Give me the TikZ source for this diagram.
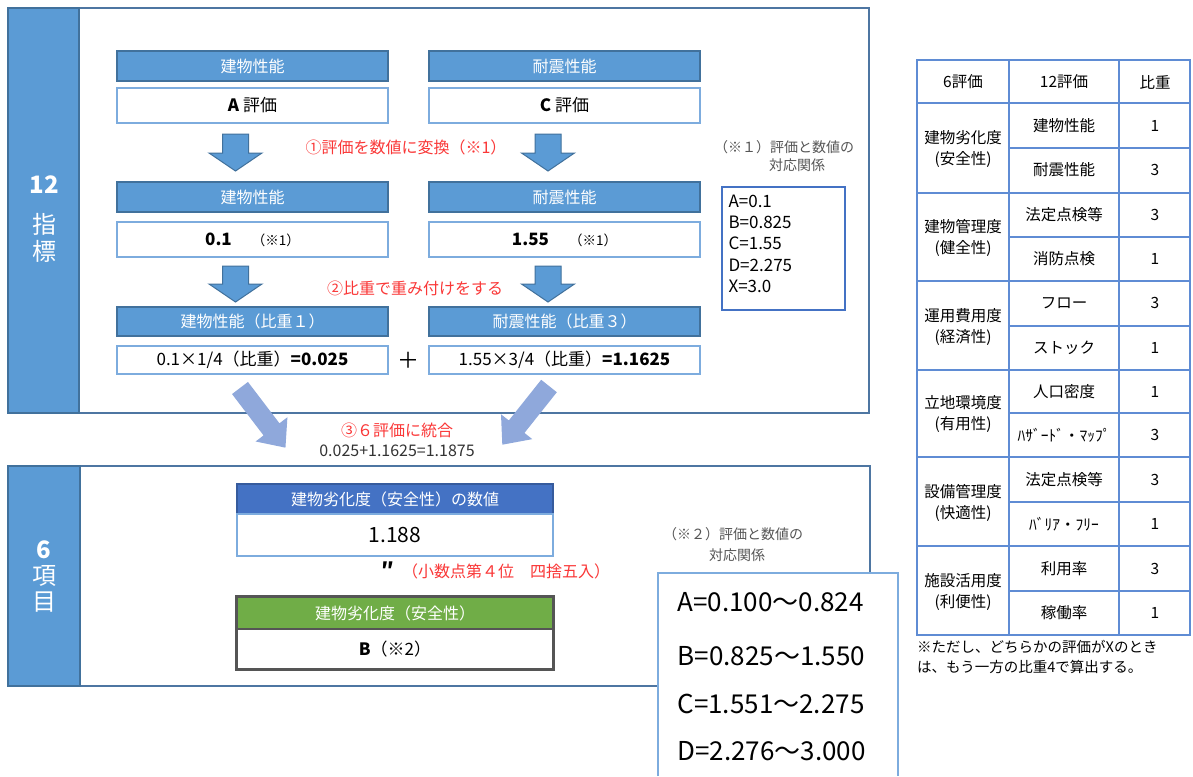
\documentclass[tikz,border=0pt]{standalone}
\usepackage{fontspec}
\setmainfont{Noto Sans CJK JP}
\usepackage{xcolor}
\usepackage{tikz}
\definecolor{bandblue}{RGB}{91,155,213}
\definecolor{bandedge}{RGB}{65,113,156}
\definecolor{panelline}{RGB}{78,118,162}
\definecolor{lightedge}{RGB}{125,172,222}
\definecolor{deepblue}{RGB}{68,114,196}
\definecolor{leafgreen}{RGB}{112,173,71}
\definecolor{darkframe}{RGB}{85,85,85}
\definecolor{notered}{RGB}{250,55,55}
\definecolor{mergearrow}{RGB}{143,168,219}
\definecolor{gridblue}{RGB}{95,140,212}
\definecolor{notegray}{RGB}{85,85,85}

\tikzset{
  hdrbox/.style={fill=bandblue, draw=bandedge, line width=1.2pt, text=white,
    minimum width=271pt, minimum height=30pt, inner sep=0pt,
    font=\fontsize{16}{19}\selectfont},
  valbox/.style={fill=white, draw=lightedge, line width=1.5pt,
    minimum width=271pt, minimum height=35pt, inner sep=0pt,
    font=\fontsize{17}{19}\selectfont},
  downarrow/.style={fill=bandblue, draw=bandedge, line width=1pt},
  mergeshape/.style={fill=mergearrow, draw=none},
  redtext/.style={text=notered, font=\fontsize{16}{19}\selectfont},
  cell/.style={font=\fontsize{15.5}{21}\selectfont, align=center, inner sep=0pt},
}

\begin{document}
\begin{tikzpicture}[x=1pt, y=-1pt]
    \useasboundingbox (0,0) rectangle (1193,776);

    % Upper panel - 12 indicators
    \draw[panelline, line width=1.5pt, fill=white] (8,8) rectangle (869,413);
    \draw[bandedge, line width=1.5pt, fill=bandblue] (8,8) rectangle (79,413);
    \node[text=white, font=\bfseries\fontsize{24}{26}\selectfont] (twelve) at (44,185) {12};
    \node[text=white, font=\fontsize{24}{26}\selectfont] (shi) at (44,224) {指};
    \node[text=white, font=\fontsize{24}{26}\selectfont] (hyo) at (44,251) {標};

    % Step 0 - ratings
    \node[hdrbox] (bldgA) at (252.5,66) {建物性能};
    \node[valbox] (rateA) at (252.5,105.5) {{\bfseries A} 評価};
    \node[hdrbox] (quakeA) at (564.5,66) {耐震性能};
    \node[valbox] (rateC) at (564.5,105.5) {{\bfseries C} 評価};

    % Arrows - step 1
    \draw[downarrow] (222.5,134) -- ++(26,0) -- ++(0,19) -- ++(13.5,0) -- ++(-26.5,18) -- ++(-26.5,-18) -- ++(13.5,0) -- cycle;
    \draw[downarrow] (535,134) -- ++(26,0) -- ++(0,19) -- ++(13.5,0) -- ++(-26.5,18) -- ++(-26.5,-18) -- ++(13.5,0) -- cycle;
    \node[redtext] (stepone) at (406,147) {①評価を数値に変換（※1）};

    % Step 1 - numeric values
    \node[hdrbox] (bldgB) at (252.5,197) {建物性能};
    \node[valbox] (numA) at (252.5,239.5) {{\bfseries 0.1}\hspace{20pt}{\fontsize{13.5}{15}\selectfont （※1）}};
    \node[hdrbox] (quakeB) at (564.5,197) {耐震性能};
    \node[valbox] (numC) at (564.5,239.5) {{\bfseries 1.55}\hspace{20pt}{\fontsize{13.5}{15}\selectfont （※1）}};

    % Arrows - step 2
    \draw[downarrow] (222.5,266) -- ++(26,0) -- ++(0,18) -- ++(13.5,0) -- ++(-26.5,18) -- ++(-26.5,-18) -- ++(13.5,0) -- cycle;
    \draw[downarrow] (535,266) -- ++(26,0) -- ++(0,18) -- ++(13.5,0) -- ++(-26.5,18) -- ++(-26.5,-18) -- ++(13.5,0) -- cycle;
    \node[redtext] (steptwo) at (415,288) {②比重で重み付けをする};

    % Step 2 - weighted values
    \node[hdrbox, minimum height=29pt] (bldgC) at (252.5,321.5) {建物性能（比重１）};
    \node[valbox, minimum height=28pt] (wA) at (252.5,360) {0.1×1/4（比重）{\bfseries =0.025}};
    \node[hdrbox, minimum height=29pt] (quakeC) at (564.5,321.5) {耐震性能（比重３）};
    \node[valbox, minimum height=28pt] (wC) at (564.5,360) {1.55×3/4（比重）{\bfseries =1.1625}};
    \node[font=\fontsize{22}{24}\selectfont] (plus) at (408,360) {＋};

    % Note 1 - rating table
    \node[text=notegray, font=\fontsize{14}{16}\selectfont] (noteone) at (784,147) {（※１）評価と数値の};
    \node[text=notegray, font=\fontsize{14}{16}\selectfont] (noteoneb) at (797,165) {対応関係};
    \draw[deepblue, line width=1.3pt] (722,187) rectangle (845,310);
    \node[anchor=west, font=\fontsize{17}{19}\selectfont] (va) at (725,201) {A=0.1};
    \node[anchor=west, font=\fontsize{17}{19}\selectfont] (vb) at (725,222.5) {B=0.825};
    \node[anchor=west, font=\fontsize{17}{19}\selectfont] (vc) at (725,243.5) {C=1.55};
    \node[anchor=west, font=\fontsize{17}{19}\selectfont] (vd) at (725,265) {D=2.275};
    \node[anchor=west, font=\fontsize{17}{19}\selectfont] (vx) at (725,286) {X=3.0};

    % Merge arrows - step 3
    \begin{scope}[shift={(240,388)}, rotate=-52.7]
      \fill[mergeshape] (0,-10) -- (52,-10) -- (52,-20) -- (75,0) -- (52,20) -- (52,10) -- (0,10) -- cycle;
    \end{scope}
    \begin{scope}[shift={(549,386)}, rotate=-128.5]
      \fill[mergeshape] (0,-10) -- (52,-10) -- (52,-20) -- (75,0) -- (52,20) -- (52,10) -- (0,10) -- cycle;
    \end{scope}
    \node[redtext] (stepthree) at (397,430) {③６評価に統合};
    \node[text=black!80, font=\fontsize{16}{18}\selectfont] (sum) at (397,451) {0.025+1.1625=1.1875};

    % Lower panel - 6 items
    \draw[panelline, line width=1.5pt, fill=white] (8,466) rectangle (870,686);
    \draw[bandedge, line width=1.5pt, fill=bandblue] (8,466) rectangle (80,686);
    \node[text=white, font=\bfseries\fontsize{24}{26}\selectfont] (six) at (44,550) {6};
    \node[text=white, font=\fontsize{24}{26}\selectfont] (kou) at (44,576) {項};
    \node[text=white, font=\fontsize{24}{26}\selectfont] (moku) at (44,602) {目};

    % Result boxes
    \node[hdrbox, fill=deepblue, draw=deepblue!80!black, minimum width=316pt] (resulthdr) at (395,499) {建物劣化度（安全性）の数値};
    \node[valbox, minimum width=316pt, minimum height=42pt, font=\fontsize{21}{23}\selectfont] (resultval) at (395,535) {1.188};
    \node[font=\bfseries\fontsize{20}{22}\selectfont] (ditto) at (388,570) {″};
    \node[redtext] (rounding) at (506,571) {（小数点第４位　四捨五入）};
    \node[fill=leafgreen, text=white, minimum width=316pt, minimum height=32pt, inner sep=0pt, font=\fontsize{16}{19}\selectfont] (gradehdr) at (395,613) {建物劣化度（安全性）};
    \node[fill=white, minimum width=316pt, minimum height=40pt, inner sep=0pt, font=\fontsize{17}{19}\selectfont] (gradeval) at (395,649) {{\bfseries B}（※2）};
    \draw[darkframe, line width=3pt] (gradehdr.north west) rectangle (gradeval.south east);
    \draw[darkframe, line width=2pt] (gradehdr.south west) -- (gradehdr.south east);

    % Note 2 - range table
    \node[text=notegray, font=\fontsize{14}{16}\selectfont] (notetwo) at (733,534) {（※２）評価と数値の};
    \node[text=notegray, font=\fontsize{14}{16}\selectfont] (notetwob) at (737,555) {対応関係};
    \fill[white] (658,573) rectangle (898,776);
    \draw[lightedge, line width=1.5pt] (658,776) -- (658,573) -- (898,573) -- (898,776);
    \node[anchor=west, font=\fontsize{26}{28}\selectfont] (ra) at (674,602) {A=0.100～0.824};
    \node[anchor=west, font=\fontsize{26}{28}\selectfont] (rb) at (674,656) {B=0.825～1.550};
    \node[anchor=west, font=\fontsize{26}{28}\selectfont] (rc) at (674,704) {C=1.551～2.275};
    \node[anchor=west, font=\fontsize{26}{28}\selectfont] (rd) at (674,751) {D=2.276～3.000};

    % Weight table - grid
    \draw[gridblue, line width=1.3pt] (917,60) rectangle (1190,635);
    \draw[gridblue, line width=1.3pt] (1009,60) -- (1009,635);
    \draw[gridblue, line width=1.3pt] (1119,60) -- (1119,635);
    \draw[gridblue, line width=1.3pt] (917,103) -- (1190,103);
    \draw[gridblue, line width=1.3pt] (917,193) -- (1190,193);
    \draw[gridblue, line width=1.3pt] (917,281) -- (1190,281);
    \draw[gridblue, line width=1.3pt] (917,370) -- (1190,370);
    \draw[gridblue, line width=1.3pt] (917,457) -- (1190,457);
    \draw[gridblue, line width=1.3pt] (917,546) -- (1190,546);
    \draw[gridblue, line width=1.3pt] (1009,148) -- (1190,148);
    \draw[gridblue, line width=1.3pt] (1009,237) -- (1190,237);
    \draw[gridblue, line width=1.3pt] (1009,326) -- (1190,326);
    \draw[gridblue, line width=1.3pt] (1009,413) -- (1190,413);
    \draw[gridblue, line width=1.3pt] (1009,502) -- (1190,502);
    \draw[gridblue, line width=1.3pt] (1009,591) -- (1190,591);

    % Weight table - header
    \node[cell] (thsix) at (963,82) {6評価};
    \node[cell] (thtwelve) at (1064,82) {12評価};
    \node[cell] (thweight) at (1155,82) {比重};

    % Weight table - rows
    \node[cell] (gsafe) at (963,149) {建物劣化度\\(安全性)};
    \node[cell] (isafe1) at (1064,126) {建物性能};
    \node[cell] (wsafe1) at (1155,126) {1};
    \node[cell] (isafe2) at (1064,170) {耐震性能};
    \node[cell] (wsafe2) at (1155,170) {3};

    \node[cell] (ghealth) at (963,238) {建物管理度\\(健全性)};
    \node[cell] (ihealth1) at (1064,215) {法定点検等};
    \node[cell] (whealth1) at (1155,215) {3};
    \node[cell] (ihealth2) at (1064,259) {消防点検};
    \node[cell] (whealth2) at (1155,259) {1};

    \node[cell] (gecon) at (963,327) {運用費用度\\(経済性)};
    \node[cell] (iecon1) at (1064,303) {フロー};
    \node[cell] (wecon1) at (1155,303) {3};
    \node[cell] (iecon2) at (1064,348) {ストック};
    \node[cell] (wecon2) at (1155,348) {1};

    \node[cell] (guse) at (963,414) {立地環境度\\(有用性)};
    \node[cell] (iuse1) at (1064,392) {人口密度};
    \node[cell] (wuse1) at (1155,392) {1};
    \node[cell] (iuse2) at (1064,435) {ﾊｻﾞｰﾄﾞ・ﾏｯﾌﾟ};
    \node[cell] (wuse2) at (1155,435) {3};

    \node[cell] (gcomf) at (963,503) {設備管理度\\(快適性)};
    \node[cell] (icomf1) at (1064,480) {法定点検等};
    \node[cell] (wcomf1) at (1155,480) {3};
    \node[cell] (icomf2) at (1064,524) {ﾊﾞﾘｱ・ﾌﾘｰ};
    \node[cell] (wcomf2) at (1155,524) {1};

    \node[cell] (gconv) at (963,592) {施設活用度\\(利便性)};
    \node[cell] (iconv1) at (1064,569) {利用率};
    \node[cell] (wconv1) at (1155,569) {3};
    \node[cell] (iconv2) at (1064,613) {稼働率};
    \node[cell] (wconv2) at (1155,613) {1};

    % Footnote under table
    \node[anchor=west, inner sep=0pt, font=\fontsize{14.5}{16}\selectfont] (footA) at (917,647) {※ただし、どちらかの評価がXのとき};
    \node[anchor=west, inner sep=0pt, font=\fontsize{14.5}{16}\selectfont] (footB) at (917,667) {は、もう一方の比重4で算出する。};
\end{tikzpicture}
\end{document}
